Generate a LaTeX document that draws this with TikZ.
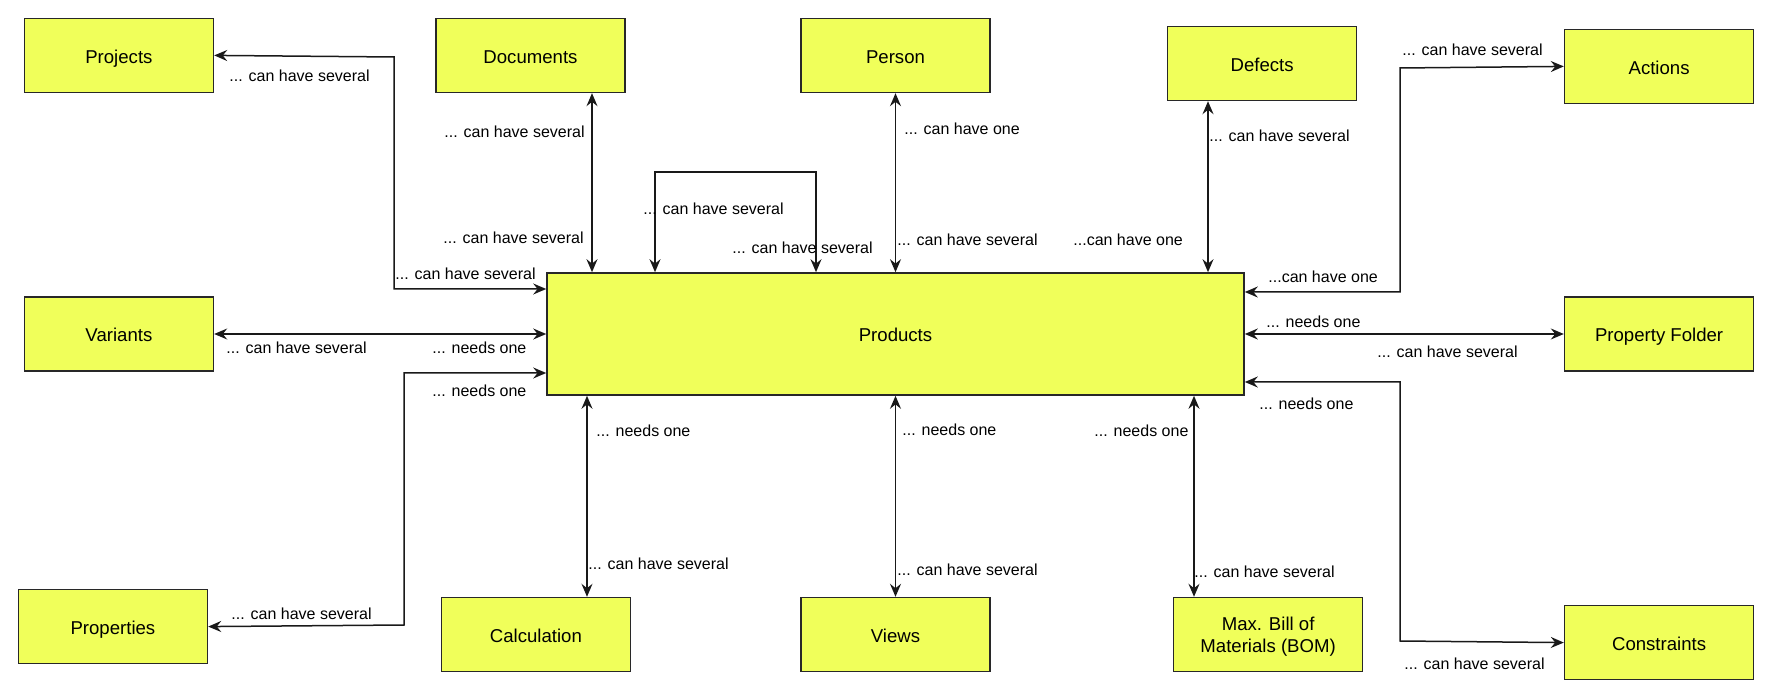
\documentclass[tikz,border=0pt]{standalone}
\usepackage{fontspec}
\setmainfont{Liberation Sans}
\usetikzlibrary{positioning,arrows.meta}
\definecolor{boxfill}{RGB}{240,255,90}
\definecolor{boxline}{RGB}{40,40,40}
\def\labfont{\fontsize{8}{9.6}\selectfont}
\def\boxfont{\fontsize{9.3}{11}\selectfont}

\begin{document}
\begin{tikzpicture}[x=0.5pt,y=-0.5pt,
    box/.style={draw=boxline,fill=boxfill,line width=0.8pt,minimum width=94.5pt,minimum height=37pt,inner sep=0pt,text height=8pt,text depth=0pt,align=center,font=\boxfont},
    lab/.style={font=\labfont,inner sep=0pt,anchor=west},
    link/.style={line width=0.75pt,draw=black!90,{Stealth[length=6.5pt,width=5.5pt,inset=2.2pt]}-{Stealth[length=6.5pt,width=5.5pt,inset=2.2pt]}}]
    \useasboundingbox (0,0) rectangle (1772,699);
    \node[box,minimum width=348.5pt,minimum height=61pt] (Products) at (895.5,334) {Products};
    \node[box,above=89.5pt of Products] (Person) {Person};
    \node[box,below=100.5pt of Products] (Views) {Views};
    \node[box,left=166pt of Products] (Variants) {Variants};
    \node[box,right=159.5pt of Products] (PropFolder) {Property Folder};
    \node[box,above=101.5pt of Variants] (Projects) {Projects};
    \node[box,right=110.5pt of Projects] (Documents) {Documents};
    \node[box,right=88pt of Person,yshift=-4pt] (Defects) {Defects};
    \node[box,above=96pt of PropFolder] (Actions) {Actions};
    \node[box,below=108.5pt of Variants,xshift=-3pt] (Properties) {Properties};
    \node[box,left=84.5pt of Views] (Calculation) {Calculation};
    \node[box,right=91pt of Views,text height=18pt] (BOM) {Max. Bill of\\Materials (BOM)};
    \node[box,below=116.5pt of PropFolder] (Constraints) {Constraints};

    \coordinate (pjA) at (394,289);
    \coordinate (pjB) at (394,57);
    \coordinate (dc) at (592,0);
    \coordinate (lpA) at (655,172);
    \coordinate (lpB) at (816,172);
    \coordinate (df) at (1208,0);
    \coordinate (acA) at (1400,292);
    \coordinate (acB) at (1400,68);
    \coordinate (prA) at (404,373);
    \coordinate (prB) at (404,625);
    \coordinate (ca) at (587,0);
    \coordinate (bo) at (1194,0);
    \coordinate (csA) at (1400,382);
    \coordinate (csB) at (1400,641);

    \draw[link] (Products.west |- pjA) -- (pjA) -- (pjB) -- (Projects.east);
    \draw[link] (Documents.south -| dc) -- (Products.north -| dc);
    \draw[link] (Products.north -| lpA) -- (lpA) -- (lpB) -- (Products.north -| lpB);
    \draw[link] (Person) -- (Products);
    \draw[link] (Defects.south -| df) -- (Products.north -| df);
    \draw[link] (Products.east |- acA) -- (acA) -- (acB) -- (Actions.west);
    \draw[link] (Variants) -- (Products);
    \draw[link] (Products) -- (PropFolder);
    \draw[link] (Products.west |- prA) -- (prA) -- (prB) -- (Properties.east);
    \draw[link] (Products.south -| ca) -- (Calculation.north -| ca);
    \draw[link] (Products) -- (Views);
    \draw[link] (Products.south -| bo) -- (BOM.north -| bo);
    \draw[link] (Products.east |- csA) -- (csA) -- (csB) -- (Constraints.west);

    \node[lab] (lPjA) at (229,76) {... can have several};
    \node[lab] (lPjB) at (395,274) {... can have several};
    \node[lab,anchor=east] (lDcA) at (585,132) {... can have several};
    \node[lab,anchor=east] (lDcB) at (584,238) {... can have several};
    \node[lab] (lLpA) at (643,209) {... can have several};
    \node[lab] (lLpB) at (732,248) {... can have several};
    \node[lab] (lPsA) at (904,129) {... can have one};
    \node[lab] (lPsB) at (897,240) {... can have several};
    \node[lab] (lDfA) at (1073,240) {...can have one};
    \node[lab] (lDfB) at (1209,136) {... can have several};
    \node[lab] (lAcA) at (1402,50) {... can have several};
    \node[lab] (lAcB) at (1268,277) {...can have one};
    \node[lab] (lPfA) at (1266,322) {... needs one};
    \node[lab] (lPfB) at (1377,352) {... can have several};
    \node[lab] (lVaA) at (226,348) {... can have several};
    \node[lab] (lVaB) at (432,348) {... needs one};
    \node[lab] (lPrA) at (432,391) {... needs one};
    \node[lab] (lPrB) at (231,614) {... can have several};
    \node[lab] (lCaA) at (596,431) {... needs one};
    \node[lab] (lCaB) at (588,564) {... can have several};
    \node[lab] (lViA) at (902,430) {... needs one};
    \node[lab] (lViB) at (897,570) {... can have several};
    \node[lab] (lBoA) at (1094,431) {... needs one};
    \node[lab] (lBoB) at (1194,572) {... can have several};
    \node[lab] (lCsA) at (1259,404) {... needs one};
    \node[lab] (lCsB) at (1404,664) {... can have several};
\end{tikzpicture}
\end{document}
